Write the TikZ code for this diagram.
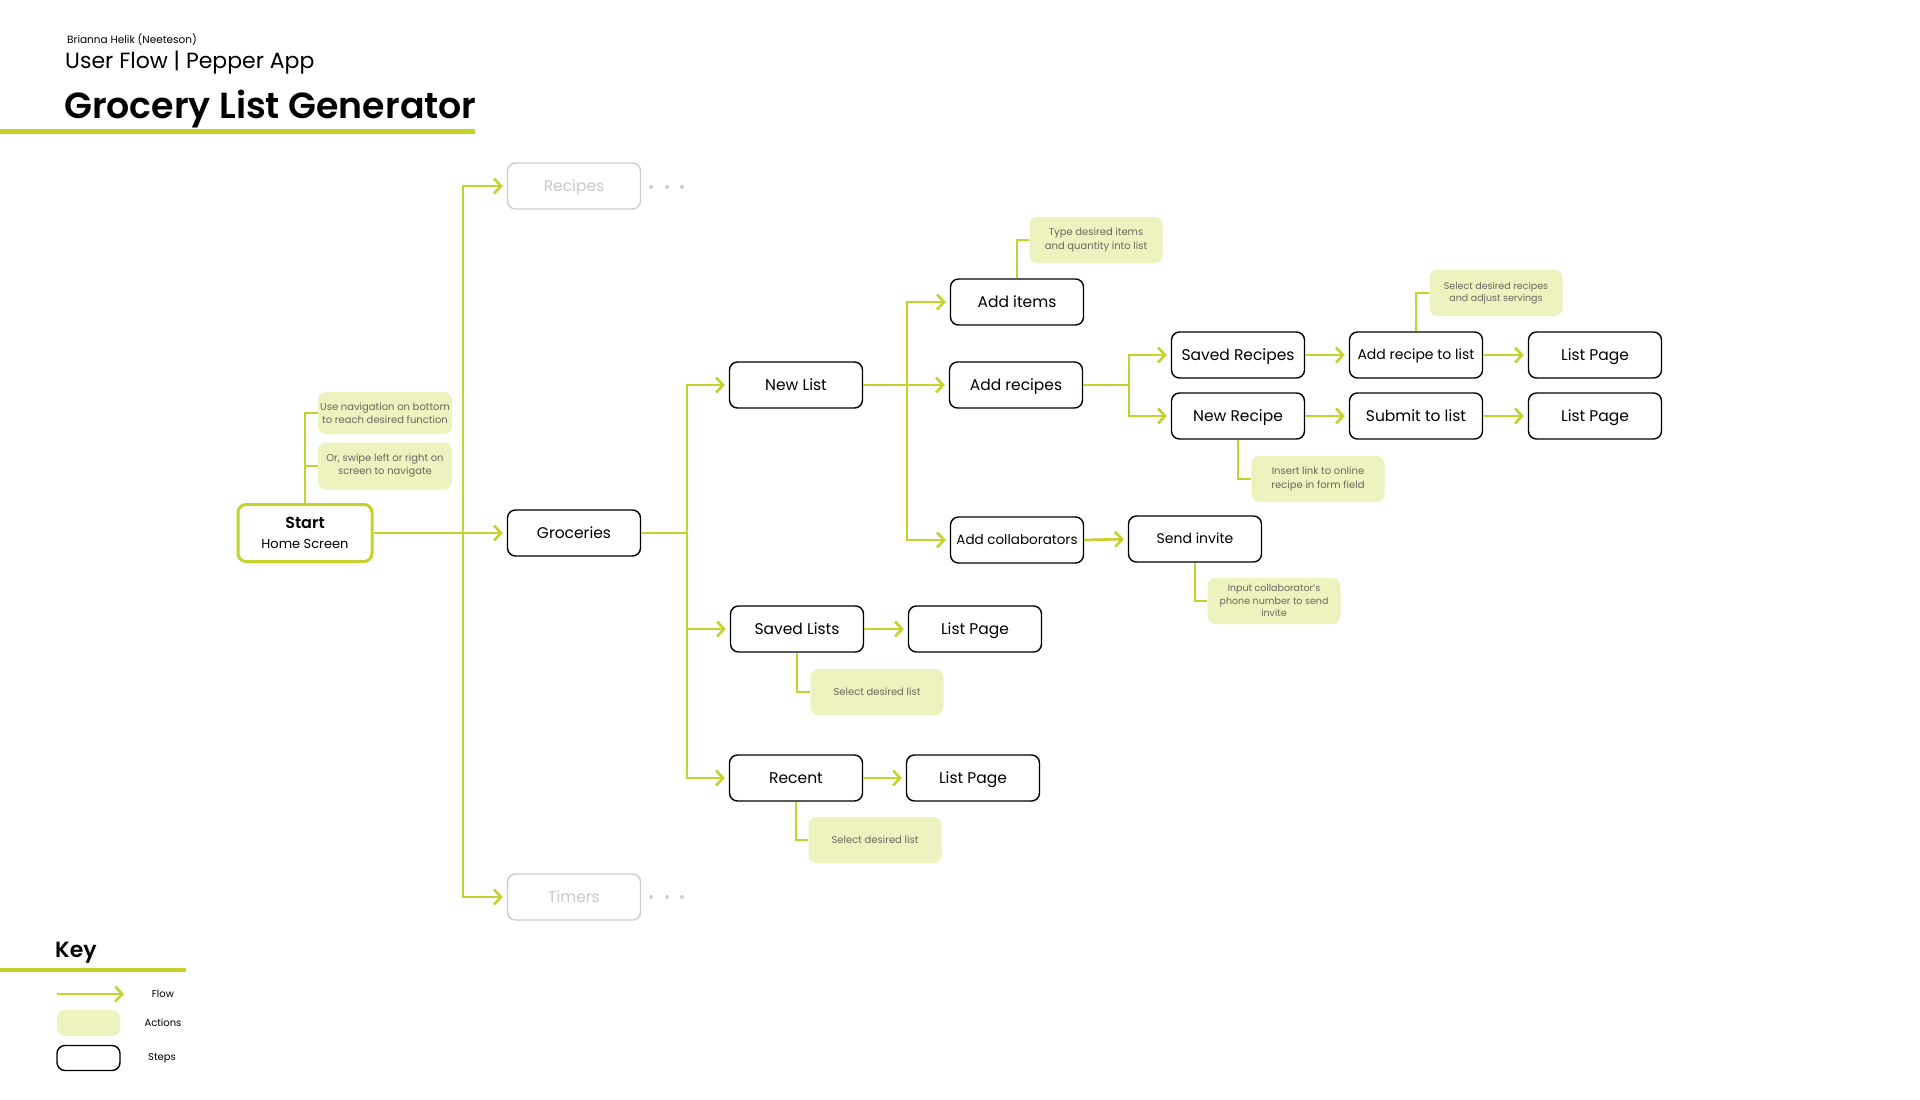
\documentclass[tikz,border=0pt]{standalone}
\usepackage{fontspec}
\setmainfont{Poppins}
\newfontfamily\titlefont{Poppins SemiBold}
\usetikzlibrary{arrows.meta}
\definecolor{flowgreen}{RGB}{197,210,43}
\definecolor{actfill}{RGB}{237,242,190}
\definecolor{acttext}{RGB}{105,105,95}
\definecolor{ghost}{RGB}{205,205,205}
\definecolor{ghosttext}{RGB}{200,200,200}
\begin{document}
\begin{tikzpicture}[x=1pt,y=-1pt,
  stepbox/.style={draw=black, line width=1.4pt, rounded corners=8pt, minimum width=133pt, minimum height=46pt, inner sep=0pt, font=\fontsize{15.5}{18}\selectfont, fill=white, text height=10.8pt, text depth=0pt},
  actbox/.style={fill=actfill, rounded corners=8pt, minimum width=133pt, minimum height=46pt, inner sep=0pt, align=center, text=acttext, font=\fontsize{10}{13}\selectfont},
  ghostbox/.style={stepbox, draw=ghost, text=ghosttext},
  flowline/.style={draw=flowgreen, line width=2.6pt},
  flow/.style={flowline, -{Straight Barb[length=7pt,width=15pt]}, shorten >=4pt},
  actline/.style={draw=flowgreen, line width=1.5pt},
  dot/.style={circle, fill=ghost, inner sep=0pt, minimum size=4pt},
  keylabel/.style={font=\fontsize{10}{12}\selectfont, inner sep=0pt}
]
\useasboundingbox[fill=white] (0,0) rectangle (1920,1100);

% Header
\node[anchor=west, inner sep=0pt, font=\fontsize{10.5}{12}\selectfont] (author) at (67,40) {Brianna Helik (Neeteson)};
\node[anchor=west, inner sep=0pt, font=\fontsize{22}{26}\selectfont] (subtitle) at (65,63) {User Flow | Pepper App};
\node[anchor=west, inner sep=0pt, font=\titlefont\fontsize{36.3}{40}\selectfont] (title) at (64,109) {Grocery List Generator};
\draw[draw=flowgreen, line width=5pt] (0,131) -- (475,131);

% Steps
\node[ghostbox] (recipes) at (574,186) {Recipes};
\node[ghostbox] (timers) at (574,897) {Timers};
\node[draw=flowgreen, line width=3pt, rounded corners=8pt, fill=white, inner sep=0pt, minimum width=134pt, minimum height=57pt, align=center] (start) at (305,533)
  {{\titlefont\fontsize{16}{18}\selectfont Start}\\[8pt]{\fontsize{13}{15}\selectfont Home Screen}};
\node[stepbox] (groceries) at (574,533) {Groceries};
\node[stepbox] (newlist) at (796,385) {New List};
\node[stepbox] (savedlists) at (797,629) {Saved Lists};
\node[stepbox] (recent) at (796,778) {Recent};
\node[stepbox] (additems) at (1017,302) {Add items};
\node[stepbox] (addrecipes) at (1016,385) {Add recipes};
\node[stepbox, font=\fontsize{13.5}{16}\selectfont, text height=9.6pt] (addcollab) at (1017,540) {Add collaborators};
\node[stepbox, font=\fontsize{14}{16}\selectfont, text height=9.8pt] (sendinvite) at (1195,539) {Send invite};
\node[stepbox] (lp1) at (975,629) {List Page};
\node[stepbox] (lp2) at (973,778) {List Page};
\node[stepbox] (savedrecipes) at (1238,355) {Saved Recipes};
\node[stepbox] (newrecipe) at (1238,416) {New Recipe};
\node[stepbox, font=\fontsize{14}{16}\selectfont, text height=9.8pt] (addrecipetolist) at (1416,355) {Add recipe to list};
\node[stepbox] (submittolist) at (1416,416) {Submit to list};
\node[stepbox] (lp3) at (1595,355) {List Page};
\node[stepbox] (lp4) at (1595,416) {List Page};

% Ellipsis dots
\node[dot] (rd1) at (651,187) {}; \node[dot] (rd2) at (667,187) {}; \node[dot] (rd3) at (682,187) {};
\node[dot] (td1) at (651,897) {}; \node[dot] (td2) at (667,897) {}; \node[dot] (td3) at (682,897) {};

% Actions
\node[actbox, minimum width=134pt, minimum height=42pt] (nav1) at (385,413) {Use navigation on bottom\\to reach desired function};
\node[actbox, minimum width=134pt, minimum height=47pt] (nav2) at (385,466) {Or, swipe left or right on\\screen to navigate};
\node[actbox, font=\fontsize{10}{14}\selectfont] (typeitems) at (1096,240) {Type desired items\\and quantity into list};
\node[actbox, font=\fontsize{9.5}{12.5}\selectfont] (selrec) at (1496,293) {Select desired recipes\\and adjust servings};
\node[actbox, font=\fontsize{10}{14}\selectfont] (insertlink) at (1318,479) {Insert link to online\\recipe in form field};
\node[actbox, font=\fontsize{9.5}{12.5}\selectfont] (inputcollab) at (1274,601) {Input collaborator's\\phone number to send\\invite};
\node[actbox] (sel1) at (877,692) {Select desired list};
\node[actbox] (sel2) at (875,840) {Select desired list};

% Junctions
\coordinate (j1) at (463,533);
\coordinate (j2) at (687,533);
\coordinate (j3) at (907,385);
\coordinate (j4) at (1129,385);

% Flow connectors
\draw[flow] (start.east) -- (groceries.west);
\draw[flow] (j1) |- (recipes.west);
\draw[flow] (j1) |- (timers.west);
\draw[flowline] (groceries.east) -- (j2);
\draw[flow] (j2) |- (newlist.west);
\draw[flow] (j2) |- (savedlists.west);
\draw[flow] (j2) |- (recent.west);
\draw[flow] (newlist.east) -- (addrecipes.west);
\draw[flow] (j3) |- (additems.west);
\draw[flow] (j3) |- (addcollab.west);
\draw[flowline] (addrecipes.east) -- (j4);
\draw[flow] (j4) |- (savedrecipes.west);
\draw[flow] (j4) |- (newrecipe.west);
\draw[flow] (savedrecipes.east) -- (addrecipetolist.west);
\draw[flow] (addrecipetolist.east) -- (lp3.west);
\draw[flow] (newrecipe.east) -- (submittolist.west);
\draw[flow] (submittolist.east) -- (lp4.west);
\draw[flow] (addcollab.east) -- (sendinvite.west);
\draw[flow] (savedlists.east) -- (lp1.west);
\draw[flow] (recent.east) -- (lp2.west);

% Action connectors
\draw[actline] (start.north) |- (nav1.west);
\draw[actline] (start.north |- nav2.west) -- (nav2.west);
\draw[actline] (additems.north) |- (typeitems.west);
\draw[actline] (addrecipetolist.north) |- (selrec.west);
\draw[actline] (newrecipe.south) |- (insertlink.west);
\draw[actline] (sendinvite.south) |- (inputcollab.west);
\draw[actline] (savedlists.south) |- (sel1.west);
\draw[actline] (recent.south) |- (sel2.west);

% Key
\node[anchor=west, inner sep=0pt, font=\titlefont\fontsize{22}{26}\selectfont] (keytitle) at (55,953) {Key};
\draw[draw=flowgreen, line width=4pt] (0,970) -- (186,970);
\coordinate (kf1) at (57,994);
\coordinate (kf2) at (124,994);
\draw[flowline, -{Straight Barb[length=7pt,width=15pt]}] (kf1) -- (kf2);
\node[keylabel] (kflow) at (163,994) {Flow};
\node[fill=actfill, rounded corners=8pt, minimum width=63pt, minimum height=26pt, inner sep=0pt] (kact) at (88.5,1023) {};
\node[keylabel] (kactl) at (163,1023) {Actions};
\node[draw=black, line width=1.4pt, rounded corners=8pt, minimum width=63pt, minimum height=25pt, inner sep=0pt] (kstep) at (88.5,1058) {};
\node[keylabel] (kstepl) at (162,1058) {Steps};
\end{tikzpicture}
\end{document}
